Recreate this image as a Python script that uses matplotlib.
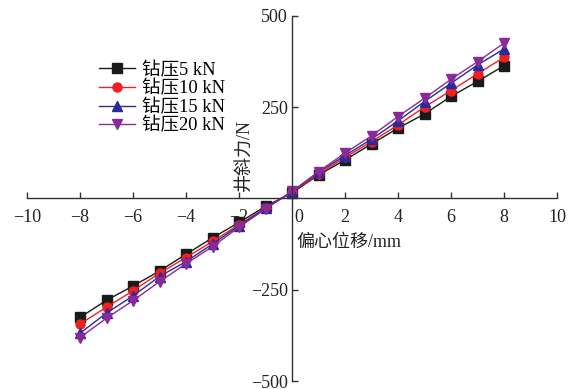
import matplotlib
matplotlib.use("Agg")
import matplotlib.pyplot as plt
from matplotlib.transforms import ScaledTranslation

plt.rcParams['font.family'] = ['Liberation Serif', 'Noto Sans CJK SC']
plt.rcParams['axes.unicode_minus'] = True

# eccentric displacement (mm)
offset_mm = [-8, -7, -6, -5, -4, -3, -2, -1, 0, 1, 2, 3, 4, 5, 6, 7, 8]

# deviation force (N) for each weight on bit
force_5kN = [-326, -279, -240, -199, -153, -108, -66, -22, 15, 64, 105, 149, 192, 231, 279, 320, 363]
force_10kN = [-344, -298, -253, -205, -162, -118, -72, -27, 17, 66, 112, 155, 201, 250, 295, 341, 386]
force_15kN = [-369, -314, -267, -214, -173, -125, -75, -27, 18, 71, 117, 162, 212, 265, 315, 365, 409]
force_20kN = [-381, -328, -280, -228, -179, -132, -79, -29, 19, 73, 124, 171, 224, 274, 326, 374, 425]

series_labels = ['钻压5 kN', '钻压10 kN', '钻压15 kN', '钻压20 kN']
x_ticks = [-10, -8, -6, -4, -2, 0, 2, 4, 6, 8, 10]
y_ticks = [-500, -250, 250, 500]

fig = plt.figure(figsize=(5.76, 3.89), dpi=100)
ax = fig.add_axes([27 / 576, 1 - 381 / 389, 530 / 576, 365.3 / 389])

styles = [
    dict(color='#1a1a1a', marker='s', mfc='#1a1a1a'),
    dict(color='#f02020', marker='o', mfc='#f02020'),
    dict(color='#2a2a9a', marker='^', mfc='#2a2a9a'),
    dict(color='#8a2a9a', marker='v', mfc='#8a2a9a'),
]
for vals, lab, st in zip([force_5kN, force_10kN, force_15kN, force_20kN], series_labels, styles):
    ax.plot(offset_mm, vals, label=lab, lw=1.0, ms=6.5, mec=st['mfc'], **st)

ax.set_xlim(-10, 10)
ax.set_ylim(-500, 500)
for side in ('top', 'right'):
    ax.spines[side].set_visible(False)
ax.spines['left'].set_position(('data', 0))
ax.spines['bottom'].set_position(('data', 0))
for side in ('left', 'bottom'):
    ax.spines[side].set_color('#333333')
    ax.spines[side].set_linewidth(1.0)

ax.set_xticks(x_ticks)
ax.set_yticks(y_ticks)
ax.tick_params(direction='in', length=4, width=1, colors='#333333',
               labelsize=13, labelcolor='#222222')
ax.tick_params(axis='x', pad=8)
ax.tick_params(axis='y', pad=3)
ax.set_xticklabels([str(t).replace('-', '\u2212') for t in x_ticks])
ax.set_yticklabels([str(t).replace('-', '\u2212') for t in y_ticks])

# shift the "0" label off the vertical axis line
for lbl in ax.get_xticklabels():
    if lbl.get_text() == '0':
        lbl.set_transform(lbl.get_transform() + ScaledTranslation(5 / 72, 0, fig.dpi_scale_trans))

ax.text(-1.5, 119, '井斜力/N', rotation=90, ha='right', va='center', fontsize=13, color='#222222')
ax.text(0.15, -122, '偏心位移/mm', ha='left', va='center', fontsize=13, color='#222222')

ax.legend(loc='upper left', bbox_to_anchor=(0.121, 0.895), frameon=False, fontsize=13.3,
          handlelength=1.95, handletextpad=0.4, labelspacing=0.07, borderaxespad=0)

fig.savefig('out.png', dpi=100)
